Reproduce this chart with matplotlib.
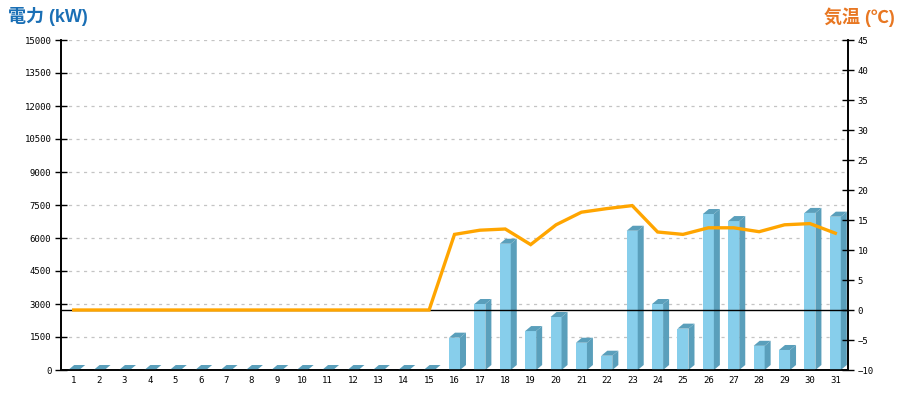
import numpy as np
import matplotlib.pyplot as plt
from matplotlib.patches import Polygon

# 日別データ (1〜31日)
days = list(range(1, 32))
power_kw = [0] * 15 + [1470, 3000, 5740, 1770, 2410, 1240, 650, 6330,
                       3000, 1880, 7090, 6770, 1100, 910, 7140, 6970]
temp_c = [0] * 15 + [12.6, 13.3, 13.5, 10.9, 14.2, 16.3, 16.9, 17.4,
                     13.0, 12.6, 13.7, 13.7, 13.05, 14.2, 14.4, 12.8]
left_ticks = list(range(0, 15001, 1500))
right_ticks = list(range(-10, 46, 5))

front_col = '#87CEEB'
side_col = '#5A9FBB'

W, H = 900, 400
fig = plt.figure(figsize=(9, 4), dpi=100)
x0, x1, y0, y1 = 61, 848, 40, 370
ax = fig.add_axes([x0 / W, 1 - y1 / H, (x1 - x0) / W, (y1 - y0) / H])
ax2 = ax.twinx()

xmin, xmax = 0.5, 31.5
ymin, ymax = 0, 15000
ax.set_xlim(xmin, xmax)
ax.set_ylim(ymin, ymax)
ax2.set_ylim(-10, 45)

# ピクセル→データ単位の換算
px_x = (xmax - xmin) / (x1 - x0)
px_y = (ymax - ymin) / (y1 - y0)
bw = 11 * px_x
dx, dy = 6 * px_x, 5 * px_y

for d, v in zip(days, power_kw):
    l, r = d - bw / 2, d + bw / 2
    if v > 0:
        ax.add_patch(Polygon([(l, 0), (r, 0), (r, v), (l, v)],
                             facecolor=front_col, edgecolor='none', zorder=3))
        ax.add_patch(Polygon([(r, 0), (r + dx, dy), (r + dx, v + dy), (r, v)],
                             facecolor=side_col, edgecolor='none', zorder=3))
    ax.add_patch(Polygon([(l, v), (r, v), (r + dx, v + dy), (l + dx, v + dy)],
                         facecolor=side_col, edgecolor='none', zorder=3))

# グリッド
for t in left_ticks[1:]:
    ax.axhline(t, color='#c4c4c4', lw=0.9, ls=(0, (2.5, 3.5)), zorder=1)

# 気温
ax2.axhline(0, color='black', lw=1, zorder=4)
ax2.plot(days, temp_c, color='#FFA500', lw=2.4, zorder=5,
         solid_joinstyle='miter')

ax.set_zorder(1)
ax2.set_zorder(2)
ax2.patch.set_visible(False)

mono = 'DejaVu Sans Mono'
ax.set_yticks(left_ticks)
ax.set_yticklabels([str(t) for t in left_ticks], fontsize=6.5, family=mono)
ax.set_xticks(days)
ax.set_xticklabels([str(d) for d in days], fontsize=6.5, family=mono)
ax.tick_params(axis='x', length=0, pad=4)
ax.tick_params(axis='y', direction='inout', length=8, width=1, pad=3)
ax2.set_yticks(right_ticks)
ax2.set_yticklabels([str(t).replace('-', '\u2212') for t in right_ticks],
                    fontsize=6.5, family=mono)
ax2.tick_params(axis='y', direction='inout', length=8, width=1, pad=3)

for a in (ax, ax2):
    a.spines['top'].set_visible(False)
    for s in ('left', 'right', 'bottom'):
        a.spines[s].set_linewidth(1.2)

jp = ['Liberation Sans', 'Noto Sans CJK JP']
fig.text(8 / W, 1 - 17 / H, '電力 (kW)', color='#1a6fb5', fontsize=13,
         fontweight='bold', family=jp, va='center', ha='left')
fig.text(895 / W, 1 - 17 / H, '気温 (℃)', color='#e87722', fontsize=13,
         fontweight='bold', family=jp, va='center', ha='right')

fig.savefig('out.png', dpi=100)
